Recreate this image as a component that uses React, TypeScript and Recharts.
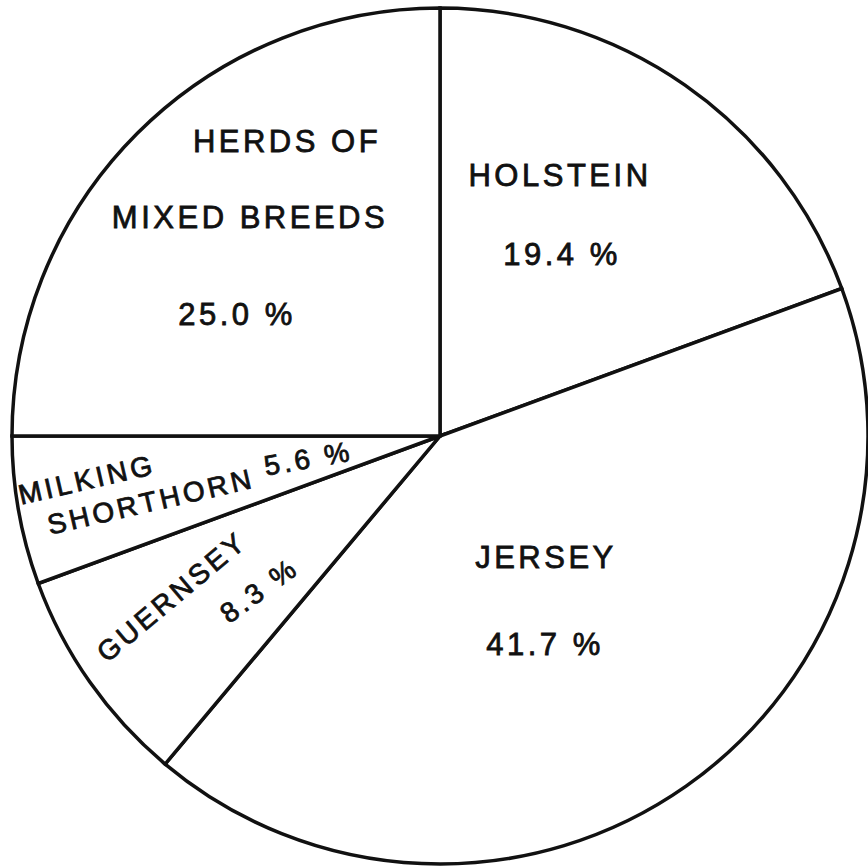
import { PieChart, Pie, Cell } from 'recharts';

const breeds = ['HOLSTEIN', 'JERSEY', 'GUERNSEY', 'MILKING SHORTHORN', 'HERDS OF MIXED BREEDS'];
const shares = [19.4, 41.7, 8.3, 5.6, 25.0];

// how each slice's label is split and placed, relative to the pie centre
const labelLayout: Record<string, { text: string; dx: number; dy: number; rot?: number; size?: number }[]> = {
  'HOLSTEIN': [
    { text: 'HOLSTEIN', dx: 120, dy: -250 },
    { text: '%', dx: 122, dy: -171 },
  ],
  'JERSEY': [
    { text: 'JERSEY', dx: 106, dy: 132 },
    { text: '%', dx: 105, dy: 219 },
  ],
  'GUERNSEY': [
    { text: 'GUERNSEY', dx: -262, dy: 168, rot: -40, size: 28 },
    { text: '%', dx: -175, dy: 162, rot: -36, size: 28 },
  ],
  'MILKING SHORTHORN': [
    { text: 'MILKING', dx: -351, dy: 53, rot: -13, size: 28 },
    { text: 'SHORTHORN', dx: -287, dy: 75, rot: -13, size: 28 },
    { text: '%', dx: -130, dy: 32, rot: -10, size: 28 },
  ],
  'HERDS OF MIXED BREEDS': [
    { text: 'HERDS OF', dx: -153, dy: -284 },
    { text: 'MIXED BREEDS', dx: -190, dy: -208 },
    { text: '%', dx: -203, dy: -111 },
  ],
};

const data = breeds.map((name, i) => ({ name, value: shares[i] }));

const renderLabel = (props: any) => {
  const { cx, cy, name, value } = props;
  const parts = labelLayout[name] || [];
  return (
    <g>
      {parts.map((p, i) => {
        const x = cx + p.dx;
        const y = cy + p.dy;
        const txt = p.text === '%' ? `${Number(value).toFixed(1)} %` : p.text;
        return (
          <text
            key={i}
            x={x}
            y={y}
            textAnchor="middle"
            fill="#111"
            stroke="#111"
            strokeWidth={0.8}
            fontSize={p.size || 31}
            fontFamily="'Liberation Sans', Arial, sans-serif"
            letterSpacing={3.5}
            transform={p.rot ? `rotate(${p.rot} ${x} ${y})` : undefined}
          >
            {txt}
          </text>
        );
      })}
    </g>
  );
};

export default function App() {
  return (
    <div style={{ position: 'absolute', top: 0, left: 0, width: 868, height: 867, background: '#fff' }}>
      <PieChart width={868} height={867} margin={{ top: 0, right: 0, bottom: 0, left: 0 }}>
        <Pie
          data={data}
          dataKey="value"
          nameKey="name"
          cx={440}
          cy={436}
          innerRadius={0}
          outerRadius={428}
          startAngle={90}
          endAngle={-270}
          stroke="#111"
          strokeWidth={3.5}
          label={renderLabel}
          labelLine={false}
          isAnimationActive={false}
        >
          {data.map((d) => (
            <Cell key={d.name} fill="#fff" stroke="#111" />
          ))}
        </Pie>
      </PieChart>
    </div>
  );
}
